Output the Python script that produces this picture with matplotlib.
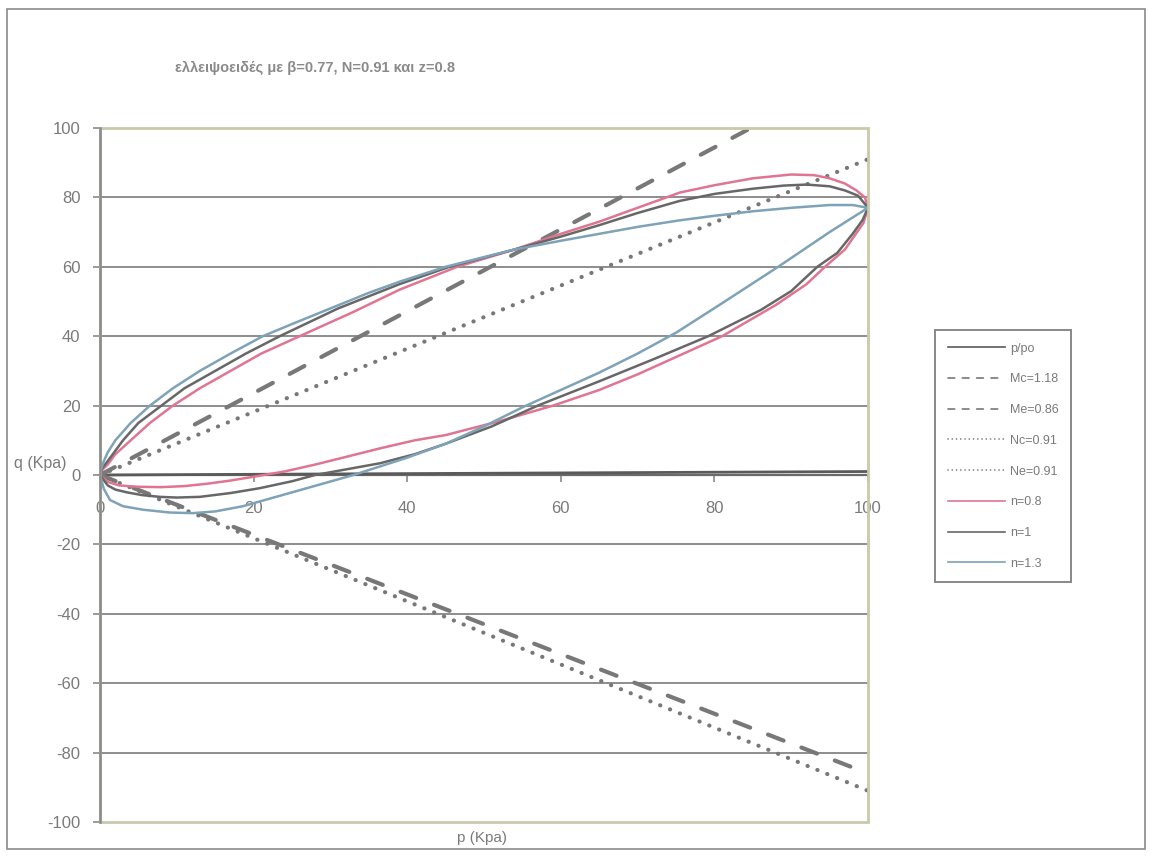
import matplotlib
matplotlib.use("Agg")
import matplotlib.pyplot as plt
from matplotlib.patches import Rectangle

plt.rcParams['font.family'] = ['Liberation Sans', 'DejaVu Sans']
plt.rcParams['axes.unicode_minus'] = False

# Straight reference lines (p from 0 to 100)
line_p = [0, 100]
ppo_q = [0, 1]
mc_q = [0, 118]
me_q = [0, -86]
nc_q = [0, 91]
ne_q = [0, -91]

# Yield loci: upper and lower branches for each n
n08_p_up = [0, 0.3, 1, 2, 4, 6.5, 9.5, 13, 17, 21, 26, 33, 39, 46.5, 54, 60, 65, 70,
            75.5, 80, 85, 90, 93, 95, 97, 98.5, 99.6, 100]
n08_q_up = [0, 1.5, 3, 6, 10, 15, 20, 25, 30, 35, 40, 47, 53.4, 60, 65, 69.5, 73, 77,
            81.4, 83.5, 85.5, 86.6, 86.4, 85.5, 84, 82, 80, 77]
n08_p_lo = [0, 1, 2.5, 5, 8, 11, 14, 17, 20, 24, 28, 32, 36.5, 41, 45, 52, 59, 65, 70,
            75, 81, 88, 92, 94.4, 97, 99.4, 100]
n08_q_lo = [0, -2, -3, -3.4, -3.5, -3.2, -2.5, -1.6, -0.5, 1, 3, 5.2, 7.7, 10, 11.5,
            15.5, 20, 24.5, 29, 34, 40, 49, 55, 60, 65, 72.6, 77]

n10_p_up = [0, 0.3, 1, 3, 5, 8, 11, 15, 19, 23.4, 31, 39, 45.5, 54, 60, 65, 70, 75.5,
            80, 85, 89, 92, 95, 97, 98.7, 100]
n10_q_up = [0, 2, 4, 10, 15, 20, 25, 30, 35, 40, 48, 55, 60, 65, 68.7, 72, 75.5, 79,
            81, 82.5, 83.4, 83.7, 83.2, 82, 80.5, 77]
n10_p_lo = [0, 1, 2, 3.5, 5.5, 7.8, 10, 13, 17, 20.8, 25, 28, 32, 36.5, 41, 45, 51, 57,
            65, 72, 79.2, 86, 90, 93.4, 96, 98, 99.3, 100]
n10_q_lo = [0, -3, -4.2, -5, -5.8, -6.3, -6.5, -6.3, -5.2, -3.8, -1.8, 0, 1.6, 3.4, 6,
            9, 14, 20, 27, 33.3, 40, 47.5, 53, 60, 64, 69.5, 73.5, 77]

n13_p_up = [0, 0.2, 0.5, 1, 2, 4, 6.5, 9.5, 13, 17, 21.2, 25, 30, 35, 39, 45, 50, 54,
            60, 65, 70, 75.5, 80, 85, 90, 95, 98, 100]
n13_q_up = [0, 2, 4, 6.5, 10, 15, 20, 25, 30, 35, 40, 43.5, 48, 52.5, 55.7, 60, 62.8,
            65, 67.5, 69.5, 71.5, 73.4, 74.7, 76, 77, 77.8, 77.8, 77]
n13_p_lo = [0, 0.5, 1.3, 3, 5.6, 9, 12, 15, 18.6, 25, 33, 40, 45, 50, 55, 60, 65, 70,
            75, 81, 88.3, 95, 100]
n13_q_lo = [0, -4, -7.2, -9, -10, -10.8, -11, -10.5, -9, -5, 0, 5, 9, 14, 19.5, 24.5,
            29.5, 35, 41, 49.5, 60, 70, 77]

yticks = list(range(-100, 101, 20))
xticks = list(range(0, 101, 20))

title = "ελλειψοειδές με β=0.77, N=0.91 και z=0.8"
labels = ["p/po", "Mc=1.18", "Me=0.86", "Nc=0.91", "Ne=0.91", "n=0.8", "n=1", "n=1.3"]

GRAY_TXT = "#7a7a7a"
GRID = "#858585"

fig = plt.figure(figsize=(11.52, 8.56), dpi=100)
fig.patch.set_facecolor("white")
ax = fig.add_axes([100 / 1152, 1 - 822 / 856, 768 / 1152, 694 / 856])

ax.set_xlim(0, 100)
ax.set_ylim(-100, 100)

for y in yticks:
    if -100 < y < 100:
        ax.axhline(y, color=GRID, lw=1.3, zorder=1)


def loop(pu, qu, pl, ql):
    return list(pu) + list(pl[::-1]), list(qu) + list(ql[::-1])


h_ppo, = ax.plot(line_p, ppo_q, color="#5a5a5a", lw=2.0, zorder=3)
dash_style = dict(color="#787878", lw=3.0, linestyle=(0, (4.0, 4.6)),
                  dash_capstyle="round", zorder=3)
dot_style = dict(color="#787878", lw=3.0, linestyle=(0, (0.05, 2.5)),
                 dash_capstyle="round", zorder=3)
h_mc, = ax.plot(line_p, mc_q, **dash_style)
h_me, = ax.plot(line_p, me_q, **dash_style)
h_nc, = ax.plot(line_p, nc_q, **dot_style)
h_ne, = ax.plot(line_p, ne_q, **dot_style)

px, qy = loop(n08_p_up, n08_q_up, n08_p_lo, n08_q_lo)
h_08, = ax.plot(px, qy, color="#e07592", lw=1.8, zorder=4, solid_joinstyle="round")
px, qy = loop(n10_p_up, n10_q_up, n10_p_lo, n10_q_lo)
h_10, = ax.plot(px, qy, color="#676767", lw=1.8, zorder=4, solid_joinstyle="round")
px, qy = loop(n13_p_up, n13_q_up, n13_p_lo, n13_q_lo)
h_13, = ax.plot(px, qy, color="#7ea2b8", lw=1.8, zorder=4, solid_joinstyle="round")

# Plot frame
ax.add_patch(Rectangle((0, 0), 1, 1, transform=ax.transAxes, fill=False,
                       ec="#c9c9ad", lw=2.0, zorder=5, clip_on=False))

for s in ["top", "right"]:
    ax.spines[s].set_visible(False)
ax.spines["left"].set_color("#8a8a8a")
ax.spines["left"].set_linewidth(1.8)
ax.spines["left"].set_zorder(6)
ax.spines["bottom"].set_position(("data", 0))
ax.spines["bottom"].set_color("#6a6a6a")
ax.spines["bottom"].set_linewidth(1.6)

ax.set_yticks(yticks)
ax.set_xticks(xticks)
ax.tick_params(axis="y", length=5, width=1.2, color="#8a8a8a", labelsize=12,
               labelcolor=GRAY_TXT, pad=9)
ax.tick_params(axis="x", length=5, width=1.2, color="#8a8a8a", labelsize=12,
               labelcolor=GRAY_TXT, pad=14)

fig.text(40 / 1152, 1 - 464 / 856, "q (Kpa)", fontsize=11.5, color=GRAY_TXT,
         ha="center", va="center")
fig.text(482 / 1152, 1 - 838 / 856, "p (Kpa)", fontsize=11, color=GRAY_TXT,
         ha="center", va="center")
fig.text(175 / 1152, 1 - 68 / 856, title, fontsize=10.5, fontweight="bold",
         color="#8a8a8a", ha="left", va="center")

leg = fig.legend([h_ppo, h_mc, h_me, h_nc, h_ne, h_08, h_10, h_13], labels,
                 loc="upper left", bbox_to_anchor=(935 / 1152, 1 - 330 / 856),
                 borderaxespad=0, fontsize=9, labelcolor=GRAY_TXT, frameon=True,
                 fancybox=False, edgecolor="#6a6a6a", handlelength=4.6,
                 labelspacing=1.5, borderpad=1.0, handletextpad=0.4)
leg.get_frame().set_linewidth(1.4)
for lh in leg.get_lines():
    lh.set_linewidth(1.2)

# Outer chart border
fig.add_artist(Rectangle((0.006, 0.008), 0.988, 0.982, transform=fig.transFigure,
                         fill=False, ec="#8a8a8a", lw=1.2))

fig.savefig("out.png", dpi=100)
